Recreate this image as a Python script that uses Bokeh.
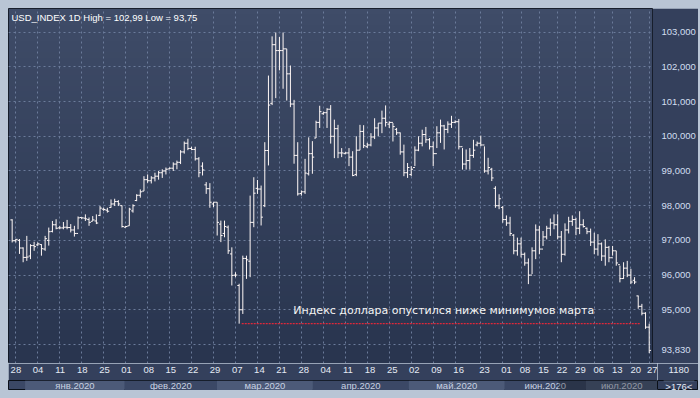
import numpy as np
from bokeh.plotting import figure
from bokeh.models import Range1d, FixedTicker, CustomJSTickFormatter, Label, ColumnDataSource
from bokeh.layouts import column, row
from bokeh.core.properties import value
from bokeh.embed import file_html
from bokeh.resources import INLINE

# ---------------- data (daily OHLC bars, USD_INDEX, 28.12.2019 - 27.07.2020) ----------------
high = [97.61, 97.04, 97.04, 96.80, 97.13, 96.89, 96.96, 96.94, 96.89, 97.13,
        97.37, 97.56, 97.61, 97.42, 97.53, 97.59, 97.47, 97.42, 97.69, 97.66,
        97.75, 97.66, 97.70, 97.75, 97.99, 97.94, 97.94, 98.18, 98.20, 98.16,
        98.01, 97.42, 97.94, 98.04, 98.33, 98.47, 98.85, 98.90, 98.85, 98.95,
        99.00, 99.05, 99.10, 99.10, 99.25, 99.30, 99.60, 99.85, 99.93, 99.70,
        99.70, 99.40, 99.25, 98.68, 98.65, 98.10, 98.10, 97.57, 97.57, 97.43,
        96.80, 96.08, 95.75, 96.56, 96.56, 98.29, 98.82, 98.74, 98.58, 99.83,
        101.75, 102.88, 102.99, 102.86, 102.99, 102.52, 102.04, 101.05, 99.83, 98.44,
        99.35, 99.97, 99.86, 100.45, 100.88, 100.71, 100.81, 100.90, 100.48, 100.33,
        99.66, 99.55, 99.66, 99.57, 100.00, 100.33, 100.32, 99.81, 100.09, 100.52,
        100.38, 100.74, 100.89, 100.43, 100.38, 100.24, 100.11, 99.76, 99.23, 99.14,
        99.71, 100.00, 100.19, 100.27, 99.95, 99.85, 100.29, 100.48, 100.33, 100.43,
        100.59, 100.46, 100.50, 99.66, 99.62, 99.66, 99.90, 99.85, 100.02, 99.71,
        99.38, 99.09, 98.56, 98.33, 97.99, 97.72, 97.68, 97.18, 97.08, 97.08,
        96.65, 96.48, 96.80, 97.46, 97.42, 97.27, 97.42, 97.63, 97.75, 97.75,
        97.27, 97.49, 97.68, 97.72, 97.65, 97.84, 97.61, 97.37, 97.34, 97.22,
        97.18, 96.94, 97.03, 96.84, 96.84, 96.70, 96.27, 96.37, 96.41, 96.18,
        95.94, 95.41, 95.17, 94.93, 94.60]
low = [96.94, 96.94, 96.61, 96.37, 96.41, 96.46, 96.70, 96.84, 96.56, 96.70,
       96.85, 97.23, 97.32, 97.32, 97.32, 97.32, 97.23, 97.11, 97.32, 97.61,
       97.56, 97.42, 97.56, 97.47, 97.70, 97.85, 97.80, 97.94, 97.99, 97.99,
       97.37, 97.37, 97.42, 97.80, 98.13, 98.23, 98.42, 98.66, 98.64, 98.70,
       98.75, 98.80, 98.90, 99.05, 99.00, 99.05, 99.20, 99.50, 99.60, 99.60,
       99.30, 98.82, 98.87, 98.34, 97.94, 97.96, 97.14, 96.95, 97.09, 96.61,
       95.70, 95.94, 94.60, 94.88, 95.89, 95.94, 97.38, 98.34, 97.43, 97.96,
       99.16, 100.90, 101.10, 101.90, 101.37, 101.03, 100.84, 99.21, 98.29, 98.29,
       98.34, 98.87, 98.92, 99.95, 100.24, 100.62, 100.24, 99.79, 99.37, 99.37,
       99.40, 99.48, 99.14, 98.85, 98.85, 99.60, 99.66, 99.66, 99.71, 99.92,
       100.00, 100.09, 100.28, 100.24, 99.85, 100.04, 99.47, 98.85, 98.80, 98.85,
       99.14, 99.57, 99.71, 99.81, 99.62, 99.14, 99.66, 99.81, 99.62, 100.09,
       100.24, 100.38, 99.62, 99.04, 99.04, 99.04, 99.38, 99.71, 99.71, 98.95,
       98.90, 98.71, 97.94, 97.90, 97.51, 97.42, 97.13, 96.60, 96.56, 96.51,
       96.27, 95.74, 96.03, 96.46, 96.60, 96.84, 97.03, 97.13, 97.32, 97.03,
       96.37, 96.56, 97.20, 97.42, 97.15, 97.18, 97.37, 97.18, 96.84, 96.60,
       96.56, 96.41, 96.27, 96.37, 96.56, 96.27, 95.79, 95.89, 95.94, 95.74,
       95.74, 95.03, 94.84, 94.45, 93.75]
open_ = [97.59, 96.99, 97.00, 96.78, 96.51, 96.55, 96.85, 96.87, 96.88, 96.75,
         97.00, 97.26, 97.45, 97.36, 97.36, 97.38, 97.37, 97.30, 97.20, 97.66,
         97.64, 97.60, 97.55, 97.56, 97.72, 97.90, 97.87, 97.95, 98.05, 98.12,
         98.00, 97.38, 97.42, 97.85, 98.15, 98.30, 98.42, 98.75, 98.72, 98.80,
         98.85, 98.95, 99.00, 99.06, 99.08, 99.20, 99.25, 99.55, 99.80, 99.65,
         99.62, 99.35, 99.14, 98.60, 98.49, 98.05, 98.10, 97.47, 97.20, 97.38,
         96.61, 96.00, 95.70, 95.00, 96.48, 96.40, 97.52, 98.50, 98.48, 98.00,
         99.59, 100.95, 102.64, 102.47, 102.47, 102.52, 101.80, 100.93, 99.45, 98.35,
         98.40, 98.92, 99.50, 99.95, 100.40, 100.65, 100.68, 100.78, 100.00, 100.22,
         99.52, 99.50, 99.52, 99.40, 98.90, 99.60, 100.14, 99.70, 99.75, 99.98,
         100.24, 100.38, 100.52, 100.35, 100.40, 100.20, 100.10, 99.55, 98.95, 98.90,
         99.10, 99.60, 99.80, 100.05, 99.90, 99.70, 99.50, 100.10, 100.30, 100.20,
         100.35, 100.40, 100.42, 99.70, 99.20, 99.30, 99.45, 99.75, 99.80, 99.75,
         99.00, 99.05, 98.50, 98.00, 97.95, 97.60, 97.50, 97.15, 96.70, 96.90,
         96.60, 96.35, 96.00, 96.70, 97.30, 96.75, 97.10, 97.35, 97.50, 97.45,
         97.10, 96.60, 97.30, 97.55, 97.60, 97.35, 97.45, 97.35, 97.25, 96.95,
         96.75, 96.90, 96.55, 96.80, 96.50, 96.70, 96.30, 95.90, 96.20, 96.00,
         95.85, 95.40, 95.10, 94.90, 94.50]
close = [96.99, 97.03, 96.78, 96.51, 96.52, 96.85, 96.82, 96.90, 96.76, 97.05,
         97.25, 97.45, 97.35, 97.36, 97.38, 97.37, 97.30, 97.20, 97.65, 97.65,
         97.62, 97.52, 97.59, 97.50, 97.93, 97.89, 97.84, 98.05, 98.12, 98.05,
         97.40, 97.40, 97.90, 98.00, 98.30, 98.40, 98.75, 98.72, 98.80, 98.85,
         98.95, 99.00, 99.05, 99.08, 99.20, 99.25, 99.55, 99.80, 99.65, 99.62,
         99.35, 98.95, 99.03, 98.49, 98.10, 98.10, 97.52, 97.14, 97.40, 96.70,
         95.99, 96.00, 95.00, 96.48, 96.44, 97.52, 98.36, 98.48, 97.67, 99.59,
         100.90, 102.64, 102.47, 102.47, 102.52, 101.80, 100.93, 99.45, 98.34, 98.40,
         98.94, 99.50, 99.40, 100.40, 100.71, 100.68, 100.78, 100.00, 100.22, 99.52,
         99.52, 99.52, 99.40, 98.87, 99.60, 100.14, 99.73, 99.75, 99.98, 100.24,
         100.38, 100.52, 100.40, 100.40, 100.28, 100.10, 99.55, 98.95, 99.10, 99.05,
         99.60, 99.80, 100.05, 99.90, 99.70, 99.50, 100.10, 100.30, 100.20, 100.35,
         100.40, 100.42, 99.70, 99.20, 99.30, 99.45, 99.60, 99.80, 99.75, 99.00,
         99.10, 98.80, 98.00, 98.20, 97.60, 97.50, 97.20, 96.70, 96.90, 96.60,
         96.35, 96.00, 96.70, 97.30, 96.75, 97.10, 97.35, 97.50, 97.45, 97.10,
         96.60, 97.30, 97.55, 97.60, 97.35, 97.45, 97.40, 97.25, 96.95, 96.75,
         96.90, 96.55, 96.80, 96.50, 96.70, 96.35, 95.90, 96.20, 96.00, 95.80,
         95.80, 95.10, 94.90, 94.50, 93.83]

week_label_bar = [1, 7, 13, 19, 25, 31, 37, 43, 49, 55, 61, 67, 73, 79, 85, 91, 97, 103,
                  109, 115, 121, 128, 134, 139, 144, 149, 154, 159, 164, 169, 174]
week_labels = ["28", "04", "11", "18", "25", "01", "08", "15", "22", "29", "07", "14",
               "21", "28", "04", "11", "18", "25", "02", "09", "16", "23", "01", "08",
               "15", "22", "29", "06", "13", "20", "27"]
month_first_bar = [4, 31, 56, 82, 108, 134, 156]
month_names = ["янв.2020", "фев.2020", "мар.2020", "апр.2020", "май.2020", "июн.2020", "июл.2020"]
price_ticks = [94, 95, 96, 97, 98, 99, 100, 101, 102, 103]
note_text = "Индекс доллара опустился ниже минимумов марта"
symbol = "USD_INDEX 1D"
box_texts = ["1180", ">176<"]

# ---------------- layout constants ----------------
N = len(high)
idx = np.arange(N)
X0, X1 = -1.0, 174.9
Y0, Y1 = 93.452, 103.683
FONT = "Liberation Sans"
PANEL = "#34405c"

def comma(v, d):
    return f"{v:.{d}f}".replace(".", ",")

def style_axis(ax, color="#e4eaf4", standoff=2):
    ax.axis_line_color = None
    ax.major_tick_line_color = None
    ax.minor_tick_line_color = None
    ax.major_label_standoff = standoff
    ax.major_label_text_font = FONT
    ax.major_label_text_font_size = "9.5px"
    ax.major_label_text_color = color

p = figure(width=690, height=355, x_range=Range1d(X0, X1), y_range=Range1d(Y0, Y1),
           y_axis_location="right", x_axis_location=None,
           output_backend="svg", toolbar_location=None,
           min_border_left=0, min_border_top=0, min_border_right=41, min_border_bottom=0)
p.margin = (8, 2, 0, 8)
p.border_fill_color = PANEL
p.outline_line_color = "#0b1019"
p.outline_line_width = 1

# gradient background (drawn below the grid)
H = 64
top_c = np.array([63, 76, 104], dtype=float)
bot_c = np.array([41, 53, 79], dtype=float)
img = np.zeros((H, 1), dtype=np.uint32)
view = img.view(dtype=np.uint8).reshape((H, 1, 4))
for r in range(H):
    t = r / (H - 1)
    c = bot_c * (1 - t) + top_c * t
    view[r, 0, 0] = int(c[0]); view[r, 0, 1] = int(c[1]); view[r, 0, 2] = int(c[2]); view[r, 0, 3] = 255
p.image_rgba(image=[img], x=X0, y=Y0, dw=X1 - X0, dh=Y1 - Y0, level="image")

# grids
p.ygrid.ticker = FixedTicker(ticks=price_ticks)
p.xgrid.ticker = FixedTicker(ticks=week_label_bar)
for g in (p.xgrid, p.ygrid):
    g.grid_line_color = "#6b7b9a"
    g.grid_line_dash = "2 3"
    g.grid_line_width = 1

# price axis (last close shown as its own tick)
ya = p.yaxis[0]
ya.ticker = FixedTicker(ticks=[close[-1]] + price_ticks)
ya.formatter = CustomJSTickFormatter(
    args=dict(last=close[-1], hide=min(price_ticks)),
    code="""
    if (Math.abs(tick - last) < 1e-9) return tick.toFixed(3).replace('.', ',');
    if (Math.abs(tick - hide) < 1e-9 && Math.abs(tick - last) < 0.3) return '';
    return tick.toFixed(3).replace('.', ',');
    """)
style_axis(ya, color="#d2def0", standoff=3)

# OHLC bars
src = ColumnDataSource(dict(x=idx, xo=idx - 0.5, xc=idx + 0.5,
                            high=high, low=low, open=open_, close=close))
bar_col = "#fff8f6"
p.segment(x0="x", y0="low", x1="x", y1="high", source=src, line_color=bar_col, line_width=1)
p.segment(x0="xo", y0="open", x1="x", y1="open", source=src, line_color=bar_col, line_width=1)
p.segment(x0="x", y0="close", x1="xc", y1="close", source=src, line_color=bar_col, line_width=1)

# March low line + note
march_bar = 56 + int(np.argmin(low[56:82]))
march_low = low[march_bar]
p.line(x=[march_bar + 0.7, N - 3.5], y=[march_low, march_low], line_color="#e0283a",
       line_width=1.3, line_dash="2 1")
p.text(x=[76.8], y=[94.98], text=[note_text], text_font=value("DejaVu Sans"),
       text_font_size="11px", text_color="#f4f4f4", text_baseline="middle", text_align="left")

# header
p.add_layout(Label(x=X0, y=Y1, x_offset=3, y_offset=-3, text_baseline="top",
                   text=f"{symbol} High = {comma(max(high), 2)} Low = {comma(min(low), 2)}",
                   text_font=FONT, text_font_size="9.5px", text_color="#ffffff"))

# date strip: week labels axis + month bands
q = figure(width=649, height=27, x_range=p.x_range, y_range=Range1d(0, 1),
           x_axis_location="above", y_axis_location=None,
           output_backend="svg", toolbar_location=None,
           min_border_left=0, min_border_top=14, min_border_right=0, min_border_bottom=0)
q.margin = (0, 0, 8, 8)
q.grid.visible = False
q.border_fill_color = PANEL
q.background_fill_color = "#3b4866"
q.outline_line_color = "#0b1019"
xa = q.xaxis[0]
xa.ticker = FixedTicker(ticks=week_label_bar)
xa.major_label_overrides = {int(b): s for b, s in zip(week_label_bar, week_labels)}
style_axis(xa)

mb_left = [b - 0.5 for b in month_first_bar]
mb_right = [b - 0.5 for b in month_first_bar[1:]] + [X1]
mb_col = ["#4c5a78" if i % 2 == 0 else "#3b4866" for i in range(len(month_names))]
q.quad(left=mb_left, right=mb_right, bottom=0, top=1, fill_color=mb_col, line_color=None)
q.text(x=[(a + b) / 2 for a, b in zip(mb_left, mb_right)], y=[0.5] * len(month_names),
       text=month_names, text_align="center", text_baseline="middle",
       text_font=value(FONT), text_font_size="9.5px", text_color="#c9d2e2")
q.quad(left=[148.0], right=[X1], bottom=[0], top=[1], fill_color="#000000", fill_alpha=0.28,
       line_color=None)

# bottom-right info box (same two-row structure as the date strip)
r2 = figure(width=41, height=27, x_range=Range1d(0, 1), y_range=Range1d(0, 1),
            x_axis_location="above", y_axis_location=None,
            output_backend="svg", toolbar_location=None,
            min_border_left=0, min_border_top=14, min_border_right=0, min_border_bottom=0)
r2.margin = (0, 2, 8, 0)
r2.grid.visible = False
r2.background_fill_color = PANEL
r2.border_fill_color = PANEL
r2.outline_line_color = "#0b1019"
ra = r2.xaxis[0]
ra.ticker = FixedTicker(ticks=[0.52])
ra.formatter = CustomJSTickFormatter(args=dict(lab=box_texts[0]), code="return lab;")
style_axis(ra)
r2.line(x=[0.15, 0.9], y=[0.97, 0.97], line_color="#6f7f9c", line_width=1)
r2.text(x=[0.52], y=[0.45], text=[box_texts[1]], text_align="center",
        text_baseline="middle", text_font=value(FONT), text_font_size="9.5px",
        text_color="#e4eaf4")

layout = column(p, row(q, r2), styles={"background-color": "#b9c5d5"})
open("out.html", "w").write(file_html(layout, INLINE))
